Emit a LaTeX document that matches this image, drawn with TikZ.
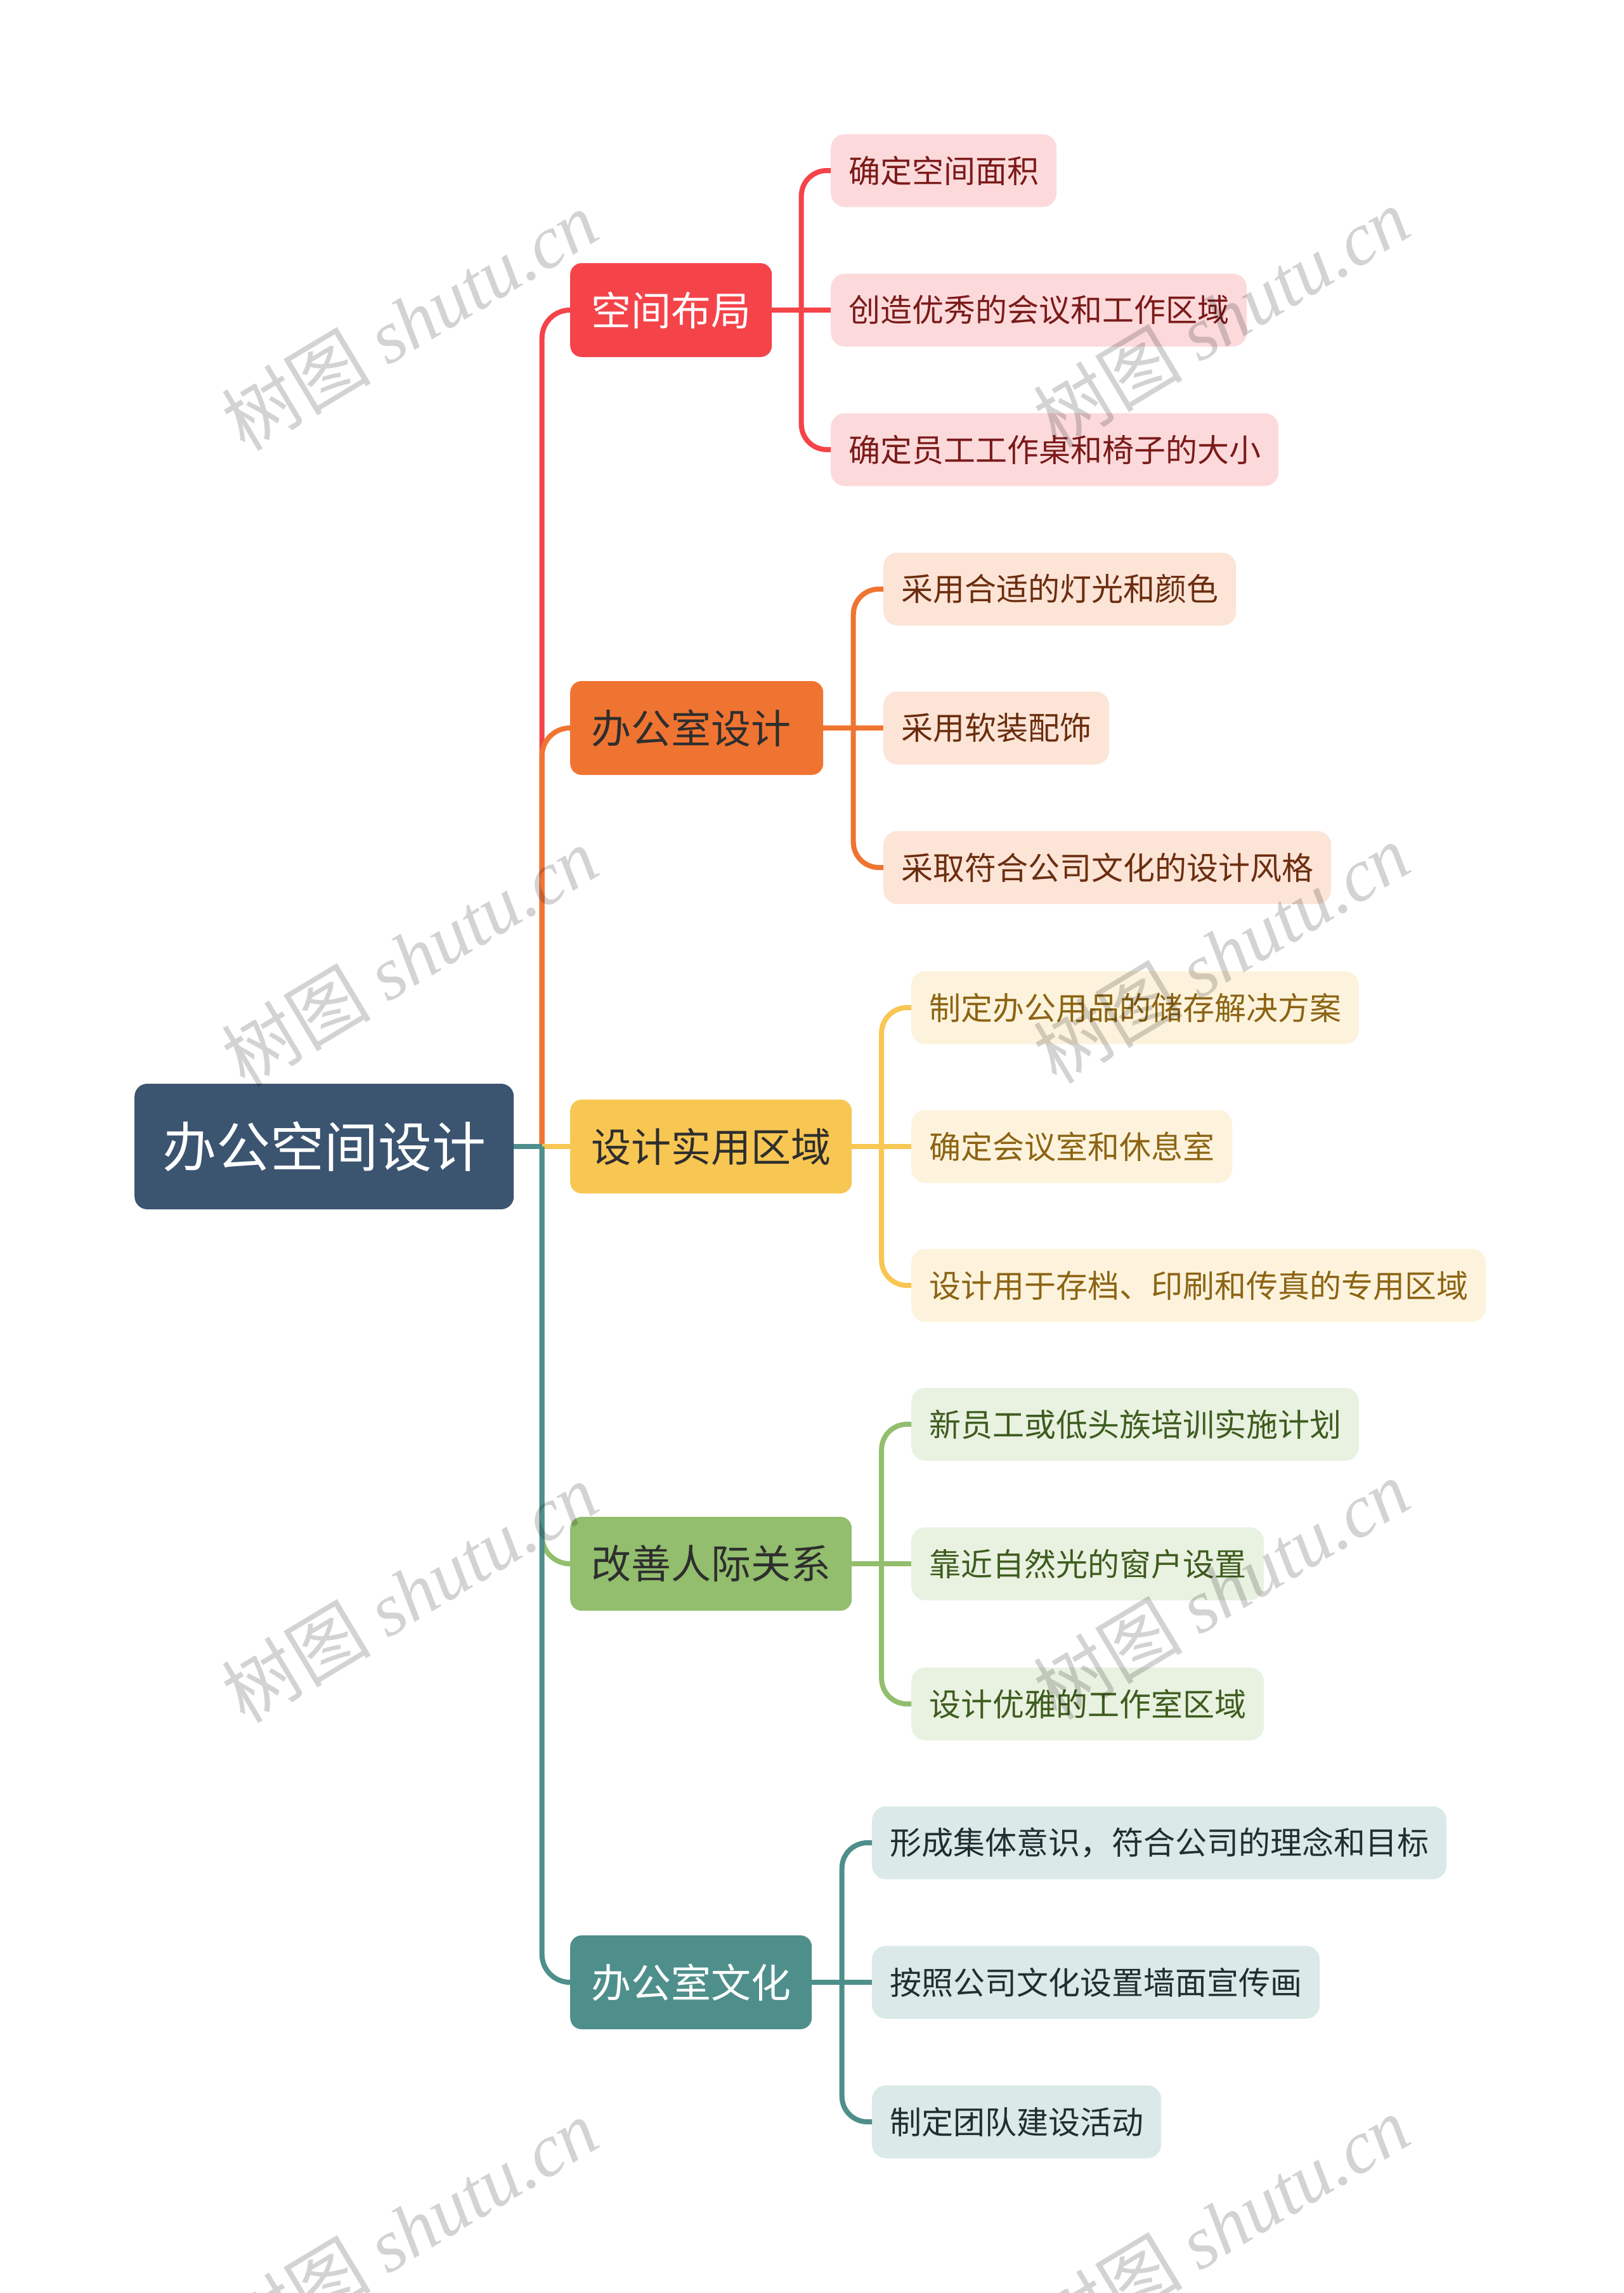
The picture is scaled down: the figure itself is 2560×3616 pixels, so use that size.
\documentclass[tikz,border=0pt]{standalone}
\usepackage{fontspec}
\setmainfont{Noto Sans CJK SC}
\newfontfamily\wmlatin{Liberation Serif}
\newfontfamily\wmcjk{Noto Sans CJK SC}
\usetikzlibrary{calc}
\definecolor{rootc}{HTML}{3B5470}
\definecolor{redc}{HTML}{F5434A}
\definecolor{redl}{HTML}{FCDADB}
\definecolor{redt}{HTML}{7B1A1A}
\definecolor{orgc}{HTML}{F07431}
\definecolor{orgl}{HTML}{FCE4D6}
\definecolor{orgt}{HTML}{6B2D0F}
\definecolor{yelc}{HTML}{F8C652}
\definecolor{yell}{HTML}{FDF3DC}
\definecolor{yelt}{HTML}{8C6414}
\definecolor{grnc}{HTML}{92BE6D}
\definecolor{grnl}{HTML}{E9F2E1}
\definecolor{grnt}{HTML}{3E5C1E}
\definecolor{tealc}{HTML}{4E8F8B}
\definecolor{teall}{HTML}{DBE9E8}
\definecolor{tealt}{HTML}{1F2F2F}
\definecolor{darkt}{HTML}{2E2E2E}
\definecolor{wmc}{HTML}{D3D3D3}
\tikzset{
  rootnode/.style={fill=rootc, text=white, rounded corners=20, minimum height=198, inner xsep=44, inner ysep=0, anchor=west, font=\fontsize{85}{100}\selectfont},
  mainnode/.style={rounded corners=18, minimum height=148, inner xsep=33, inner ysep=0, anchor=west, font=\fontsize{63}{75}\selectfont},
  leafnode/.style={rounded corners=22, minimum height=115, inner xsep=28, inner ysep=0, anchor=west, font=\fontsize{50}{60}\selectfont},
  lk/.style={line width=8, rounded corners=44},
  lk2/.style={line width=8, rounded corners=40},
  wm/.style={text=wmc, rotate=31, blend mode=multiply, font=\fontsize{118}{124}\selectfont},
}
\begin{document}
\begin{tikzpicture}[x=1pt,y=-1pt]
\useasboundingbox (0,0) rectangle (2560,3616);
\fill[white] (0,0) rectangle (2560,3616);
% root
\node[rootnode] (root) at (212,1808) {办公空间设计};
% main branches
\node[mainnode, fill=redc, text=white] (c1) at (899,489) {空间布局};
\node[mainnode, fill=orgc, text=darkt] (c2) at (899,1148) {办公室设计\kern18pt};
\node[mainnode, fill=yelc, text=darkt] (c3) at (899,1808) {设计实用区域};
\node[mainnode, fill=grnc, text=darkt] (c4) at (899,2466) {改善人际关系};
\node[mainnode, fill=tealc, text=white] (c5) at (899,3126) {办公室文化};
% leaves group 1
\node[leafnode, fill=redl, text=redt] (l11) at (1310,269) {确定空间面积};
\node[leafnode, fill=redl, text=redt] (l12) at (1310,489) {创造优秀的会议和工作区域};
\node[leafnode, fill=redl, text=redt] (l13) at (1310,709) {确定员工工作桌和椅子的大小};
% group 2
\node[leafnode, fill=orgl, text=orgt] (l21) at (1393,929) {采用合适的灯光和颜色};
\node[leafnode, fill=orgl, text=orgt] (l22) at (1393,1148) {采用软装配饰};
\node[leafnode, fill=orgl, text=orgt] (l23) at (1393,1368) {采取符合公司文化的设计风格};
% group 3
\node[leafnode, fill=yell, text=yelt] (l31) at (1437,1589) {制定办公用品的储存解决方案};
\node[leafnode, fill=yell, text=yelt] (l32) at (1437,1808) {确定会议室和休息室};
\node[leafnode, fill=yell, text=yelt] (l33) at (1437,2027) {设计用于存档、印刷和传真的专用区域};
% group 4
\node[leafnode, fill=grnl, text=grnt] (l41) at (1437,2246) {新员工或低头族培训实施计划};
\node[leafnode, fill=grnl, text=grnt] (l42) at (1437,2466) {靠近自然光的窗户设置};
\node[leafnode, fill=grnl, text=grnt] (l43) at (1437,2687) {设计优雅的工作室区域};
% group 5
\node[leafnode, fill=teall, text=tealt] (l51) at (1375,2906) {形成集体意识，符合公司的理念和目标};
\node[leafnode, fill=teall, text=tealt] (l52) at (1375,3126) {按照公司文化设置墙面宣传画};
\node[leafnode, fill=teall, text=tealt] (l53) at (1375,3346) {制定团队建设活动};
% bus coordinates
\coordinate (b0) at ($(root.east)!0.5!(c3.west)$);
\coordinate (b1) at ($(c1.east)!0.5!(l12.west)$);
\coordinate (b2) at ($(c2.east)!0.5!(l22.west)$);
\coordinate (b3) at ($(c3.east)!0.5!(l32.west)$);
\coordinate (b4) at ($(c4.east)!0.5!(l42.west)$);
\coordinate (b5) at ($(c5.east)!0.5!(l52.west)$);
% level 1 connectors
\draw[lk, redc] (b0) |- (c1.west);
\draw[lk, orgc] (b0) |- (c2.west);
\draw[lk, yelc] (b0) -- (c3.west);
\draw[lk, grnc] (b0) |- (c4.west);
\draw[lk, tealc] (b0) |- (c5.west);
\draw[lk, tealc] (root.east) -- (b0);
% group connectors
\draw[lk2, redc] (c1.east) -- (b1);
\draw[lk2, redc] (b1) |- (l11.west);
\draw[lk2, redc] (b1) -- (l12.west);
\draw[lk2, redc] (b1) |- (l13.west);
\draw[lk2, orgc] (c2.east) -- (b2);
\draw[lk2, orgc] (b2) |- (l21.west);
\draw[lk2, orgc] (b2) -- (l22.west);
\draw[lk2, orgc] (b2) |- (l23.west);
\draw[lk2, yelc] (c3.east) -- (b3);
\draw[lk2, yelc] (b3) |- (l31.west);
\draw[lk2, yelc] (b3) -- (l32.west);
\draw[lk2, yelc] (b3) |- (l33.west);
\draw[lk2, grnc] (c4.east) -- (b4);
\draw[lk2, grnc] (b4) |- (l41.west);
\draw[lk2, grnc] (b4) -- (l42.west);
\draw[lk2, grnc] (b4) |- (l43.west);
\draw[lk2, tealc] (c5.east) -- (b5);
\draw[lk2, tealc] (b5) |- (l51.west);
\draw[lk2, tealc] (b5) -- (l52.west);
\draw[lk2, tealc] (b5) |- (l53.west);
% watermarks
\foreach \wx/\wy [count=\i] in {646/505, 1926/500, 646/1508, 1926/1503, 646/2511, 1926/2506, 646/3514, 1926/3509}{
  \node[wm] (wm\i) at (\wx,\wy) {\wmcjk 树图 \wmlatin\itshape shutu.cn};
}
\end{tikzpicture}
\end{document}
